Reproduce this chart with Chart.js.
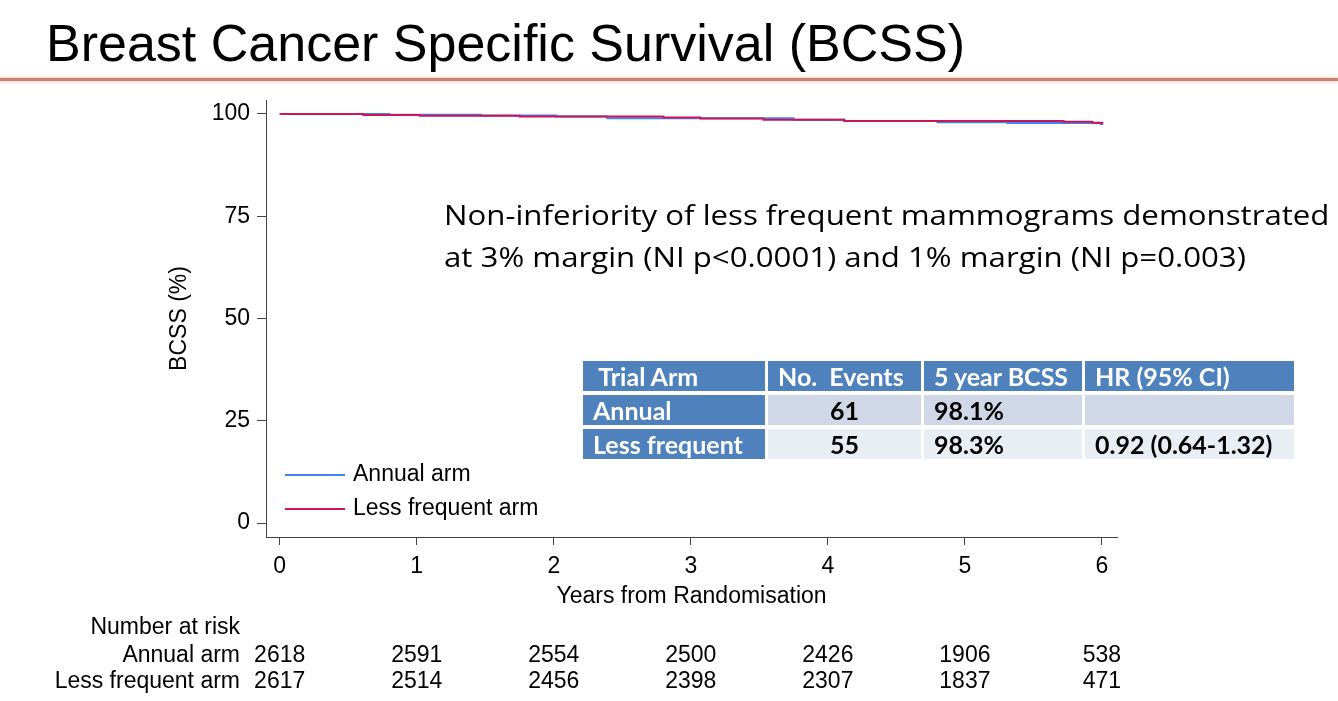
<!DOCTYPE html>
<html>
<head>
<meta charset="utf-8">
<title>Breast Cancer Specific Survival (BCSS)</title>
<script src="https://cdn.jsdelivr.net/npm/chart.js@4.4.0/dist/chart.umd.min.js"></script>
<style>
  html, body { margin: 0; padding: 0; background: #fff; }
  #wrap { position: relative; width: 1338px; height: 701px; overflow: hidden; }
  #chart { position: absolute; left: 0; top: 0; }
  .title {
    position: absolute; left: 46px; top: 17px;
    font: 52px/52px "Liberation Sans", Arial, sans-serif;
    color: #000; white-space: nowrap;
  }
  .rule {
    position: absolute; left: 0; top: 78px; width: 1338px; height: 3px;
    background: #c7866c; box-shadow: 0 0 3px 1px #f3d3c3;
  }
  .note {
    position: absolute; left: 444px; top: 193px;
    font: 28px/42px "Open Sans", Lato, sans-serif;
    color: #000; white-space: nowrap;
    transform-origin: 0 0;
  }
  table.stats {
    position: absolute; left: 580px; top: 357px;
    border-collapse: separate; border-spacing: 3px 4px;
    font: bold 25px Lato, "Open Sans", sans-serif;
  }
  table.stats td { height: 30px; padding: 0 10px; white-space: nowrap; }
  table.stats td.h { background: #4f81bd; color: #fff; }
  table.stats tr.r1 td.c { background: #d0d8e8; color: #000; }
  table.stats tr.r2 td.c { background: #e9edf4; color: #000; }
  .mid { text-align: center; }
</style>
</head>
<body>
<div id="wrap">
  <div class="title">Breast Cancer Specific Survival (BCSS)</div>
  <div class="rule"></div>
  <canvas id="chart" width="1338" height="701"></canvas>
  <div class="note" id="note">Non-inferiority of less frequent mammograms demonstrated<br>at 3% margin (NI p&lt;0.0001) and 1% margin (NI p=0.003)</div>
  <table class="stats">
    <tr>
      <td class="h" style="width:162px">&nbsp;Trial Arm</td>
      <td class="h" style="width:133px">No.&nbsp; Events</td>
      <td class="h" style="width:138px">5 year BCSS</td>
      <td class="h" style="width:189px">HR (95% CI)</td>
    </tr>
    <tr class="r1">
      <td class="h">Annual</td>
      <td class="c mid">61</td>
      <td class="c">98.1%</td>
      <td class="c"></td>
    </tr>
    <tr class="r2">
      <td class="h">Less frequent</td>
      <td class="c mid">55</td>
      <td class="c">98.3%</td>
      <td class="c">0.92 (0.64-1.32)</td>
    </tr>
  </table>
</div>
<script>
// Kaplan-Meier steps (years, % surviving)
const annualYears = [0, 0.80, 1.47, 2.02, 2.39, 3.75, 4.12, 4.80, 5.31, 5.72, 5.99, 6.01];
const annualSurv  = [100, 99.80, 99.63, 99.34, 98.95, 98.58, 98.29, 97.99, 97.80, 97.75, 97.51, 97.51];
const lessYears   = [0, 0.61, 1.02, 1.75, 2.80, 3.07, 3.53, 4.12, 5.72, 5.93, 6.01];
const lessSurv    = [100, 99.76, 99.58, 99.34, 99.14, 98.85, 98.58, 98.29, 98.09, 97.85, 97.85];

// number at risk
const riskYears  = [0, 1, 2, 3, 4, 5, 6];
const annualRisk = [2618, 2591, 2554, 2500, 2426, 1906, 538];
const lessRisk   = [2617, 2514, 2456, 2398, 2307, 1837, 471];

const FONT = '"Liberation Sans", Arial, sans-serif';

// the slide text is a little stretched sideways, widen the note to the same span
const note = document.getElementById('note');
note.style.transform = 'scaleX(' + (886 / note.offsetWidth).toFixed(3) + ')';

function toPoints(xs, ys) {
  return xs.map((x, i) => ({ x: x, y: ys[i] }));
}

const extras = {
  id: 'extras',
  afterDraw(chart) {
    const ctx = chart.ctx;
    const xs = chart.scales.x;
    ctx.save();
    ctx.font = '23px ' + FONT;
    ctx.fillStyle = '#000';
    ctx.textBaseline = 'middle';

    // legend, bottom left inside the plot
    chart.data.datasets.forEach((ds, i) => {
      const y = 475 + i * 34;
      ctx.strokeStyle = ds.borderColor;
      ctx.lineWidth = 2;
      ctx.beginPath();
      ctx.moveTo(285, y);
      ctx.lineTo(345, y);
      ctx.stroke();
      ctx.textAlign = 'left';
      ctx.fillText(ds.label, 353, y);
    });

    // number at risk table
    ctx.textAlign = 'right';
    ctx.fillText('Number at risk', 240, 628);
    ctx.fillText('Annual arm', 240, 656);
    ctx.fillText('Less frequent arm', 240, 682);
    ctx.textAlign = 'center';
    riskYears.forEach((t, i) => {
      const px = xs.getPixelForValue(t);
      ctx.fillText(String(annualRisk[i]), px, 656);
      ctx.fillText(String(lessRisk[i]), px, 682);
    });
    ctx.restore();
  }
};

const data = {
  datasets: [{
    label: 'Annual arm',
    data: toPoints(annualYears, annualSurv),
    borderColor: '#3f86f2',
    borderWidth: 2,
    stepped: true,
    pointRadius: 0,
    fill: false,
    order: 2
  }, {
    label: 'Less frequent arm',
    data: toPoints(lessYears, lessSurv),
    borderColor: '#cc1558',
    borderWidth: 2,
    stepped: true,
    pointRadius: 0,
    fill: false,
    order: 1
  }]
};

const config = {
  type: 'line',
  data: data,
  plugins: [extras],
  options: {
    responsive: false,
    animation: false,
    layout: { padding: { top: 100, right: 221, left: 0, bottom: 0 } },
    plugins: {
      legend: { display: false },
      tooltip: { enabled: false }
    },
    scales: {
      x: {
        type: 'linear',
        min: -0.1,
        max: 6.11,
        afterFit: s => { s.height = 164; },
        ticks: {
          stepSize: 1,
          includeBounds: false,
          padding: 8,
          color: '#000',
          font: { family: FONT, size: 23 }
        },
        grid: { drawOnChartArea: false, tickLength: 8, tickColor: '#444' },
        border: { display: true, color: '#444', width: 1 },
        title: {
          display: true,
          text: 'Years from Randomisation',
          color: '#000',
          font: { family: FONT, size: 23 },
          padding: { top: 0, bottom: 91 }
        }
      },
      y: {
        min: -3.4,
        max: 103.4,
        afterFit: s => { s.width = 266; },
        ticks: {
          stepSize: 25,
          includeBounds: false,
          padding: 7,
          color: '#000',
          font: { family: FONT, size: 23 }
        },
        grid: { drawOnChartArea: false, tickLength: 9, tickColor: '#444' },
        border: { display: true, color: '#444', width: 1 },
        title: {
          display: true,
          text: 'BCSS (%)',
          color: '#000',
          font: { family: FONT, size: 23 },
          padding: { top: 166, bottom: 0 }
        }
      }
    }
  }
};

new Chart(document.getElementById('chart').getContext('2d'), config);
</script>
</body>
</html>
